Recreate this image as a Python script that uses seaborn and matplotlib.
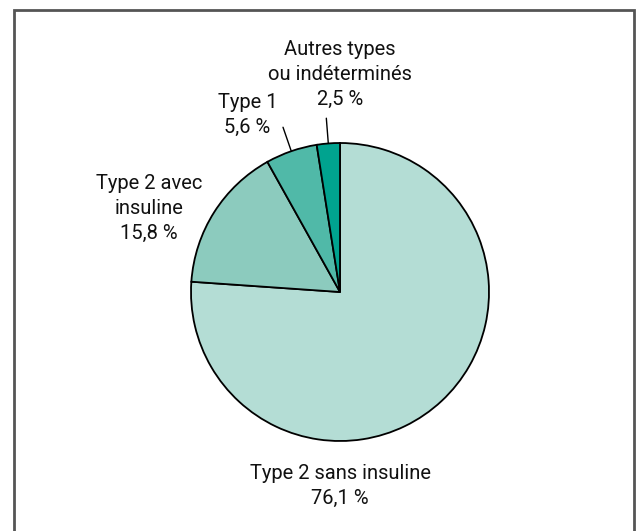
import matplotlib
matplotlib.use("Agg")
import matplotlib.pyplot as plt
import seaborn as sns
from matplotlib.patches import Rectangle
import numpy as np

# data
categories = ["Type 2 sans insuline", "Type 2 avec\ninsuline", "Type 1", "Autres types\nou indéterminés"]
shares = [76.1, 15.8, 5.6, 2.5]
value_labels = ["76,1 %", "15,8 %", "5,6 %", "2,5 %"]
slice_colors = ["#b4ddd5", "#8ccbbe", "#50b9a8", "#00a38f"]

sns.set_theme(style="white")
plt.rcParams['font.family'] = ['Roboto', 'DejaVu Sans']

fig = plt.figure(figsize=(6.37, 5.31), dpi=100)
W, H = 637, 531
cx, cy, r = 340, 292, 149
ax = fig.add_axes([(cx - r) / W, (H - cy - r) / H, 2 * r / W, 2 * r / H])

wedges, _ = ax.pie(shares, colors=slice_colors, startangle=90, counterclock=False,
                   wedgeprops=dict(edgecolor="black", linewidth=1.3))
ax.set_xlim(-1, 1)
ax.set_ylim(-1, 1)
ax.set_aspect("equal")
ax.axis("off")

# label placement (axes data units, radius = 1)
label_pos = [(0.0, -1.30), (-1.28, 0.56), (-0.62, 1.19), (0.0, 1.46)]
for i, (cat, val) in enumerate(zip(categories, value_labels)):
    x, y = label_pos[i]
    ax.text(x, y, f"{cat}\n{val}", ha="center", va="center", fontsize=14.5,
            linespacing=1.42, color="#111111", clip_on=False)

# leader lines for the two small slices
for w in wedges[2:]:
    ang = np.deg2rad((w.theta1 + w.theta2) / 2)
    ax.plot([np.cos(ang), 1.17 * np.cos(ang)], [np.sin(ang), 1.17 * np.sin(ang)],
            color="black", lw=1.0, clip_on=False)

# outer frame
fig.add_artist(Rectangle((14 / W, -0.02), (634 - 14) / W, (H - 10) / H + 0.02,
                         transform=fig.transFigure, fill=False,
                         edgecolor="#555555", linewidth=2))

fig.savefig("out.png", dpi=100)
